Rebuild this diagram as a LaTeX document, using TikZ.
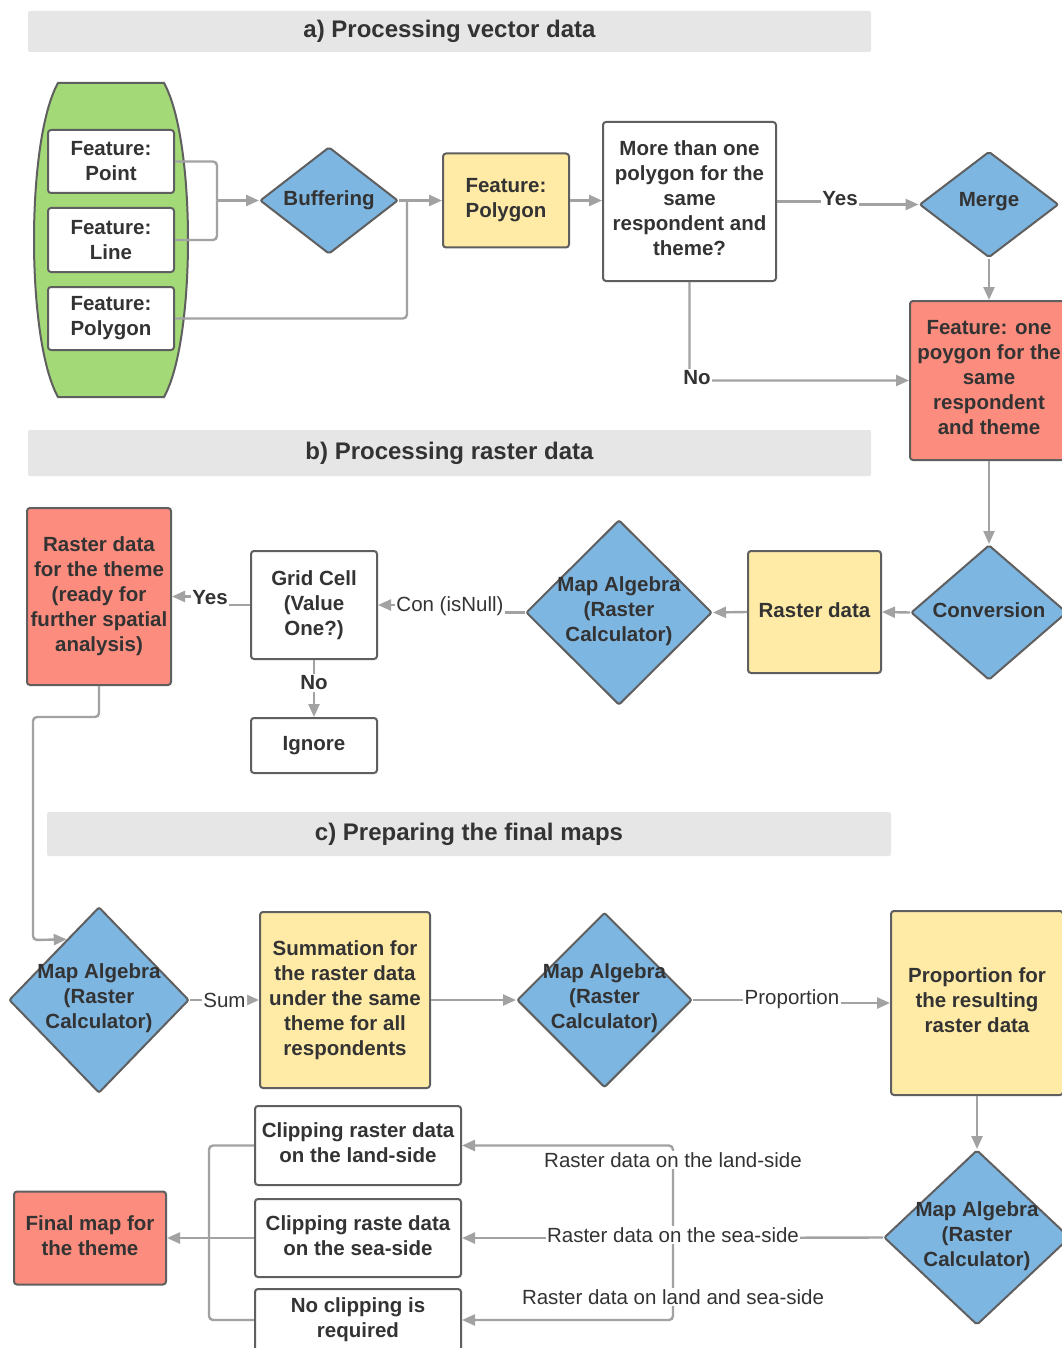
\documentclass[tikz,border=0pt]{standalone}
\usepackage{fontspec}
\setmainfont{Liberation Sans}
\usetikzlibrary{shapes.geometric,arrows.meta}
\definecolor{bandgray}{HTML}{E6E6E6}
\definecolor{edge}{HTML}{5F5F5F}
\definecolor{wire}{HTML}{A2A2A2}
\definecolor{ink}{HTML}{333333}
\definecolor{leaf}{HTML}{A3D977}
\definecolor{sky}{HTML}{7EB6E2}
\definecolor{cream}{HTML}{FFEBA6}
\definecolor{salmon}{HTML}{FC8C7D}

\begin{document}
\begin{tikzpicture}[x=1pt,y=-1pt,
  every node/.style={text=ink},
  boxstyle/.style={rectangle, rounded corners=3pt, draw=edge, line width=2pt,
    inner sep=0pt, align=center, font=\bfseries\fontsize{20.5}{25}\selectfont},
  whitebox/.style={boxstyle, fill=white},
  yellowbox/.style={boxstyle, fill=cream},
  redbox/.style={boxstyle, fill=salmon},
  dia/.style={diamond, draw=edge, fill=sky, line width=2pt, inner sep=0pt, rounded corners=2pt},
  diatext/.style={align=center, inner sep=0pt, font=\bfseries\fontsize{20.5}{25}\selectfont},
  band/.style={fill=bandgray, rounded corners=2pt, inner sep=0pt,
    font=\bfseries\fontsize{24}{28}\selectfont},
  line/.style={draw=wire, line width=2.4pt, rounded corners=4pt},
  conn/.style={line, -{Triangle[length=13pt,width=11pt]}},
  lbl/.style={fill=white, inner sep=1.5pt, font=\fontsize{20.5}{25}\selectfont},
  blbl/.style={lbl, font=\bfseries\fontsize{20.5}{25}\selectfont},
]
\useasboundingbox (0,0) rectangle (1061,1348);
\fill[white] (0,0) rectangle (1061,1348);

% ---------- section bands ----------
\node[band, minimum width=843, minimum height=41] (bandA) at (449.5,31.5) {a) Processing vector data};
\node[band, minimum width=843, minimum height=46] (bandB) at (449.5,453) {b) Processing raster data};
\node[band, minimum width=844, minimum height=44] (bandC) at (469,834) {c) Preparing the final maps};

% ---------- a) vector data ----------
\draw[fill=leaf, draw=edge, line width=2pt]
  (58,83) -- (164,83) .. controls (196,140) and (196,340) .. (164,397)
  -- (58,397) .. controls (26,340) and (26,140) .. (58,83) -- cycle;

\node[whitebox, minimum width=126, minimum height=63] (pt) at (111,161.5) {Feature:\\Point};
\node[whitebox, minimum width=126, minimum height=64] (ln) at (111,240) {Feature:\\Line};
\node[whitebox, minimum width=126, minimum height=63] (pg) at (111,318.5) {Feature:\\Polygon};

\node[dia, minimum width=138, minimum height=107] (buf) at (329,200.5) {};
\node[diatext] (buftxt) at (buf) {Buffering};

\node[yellowbox, minimum width=126, minimum height=94] (fpoly) at (506,200.5) {Feature:\\Polygon};
\node[whitebox, minimum width=173, minimum height=159] (more) at (689.5,201.5) {};
\node[diatext] (moretxt) at (689.5,198.5) {More than one\\polygon for the\\same\\respondent and\\theme?};

\node[dia, minimum width=139, minimum height=106] (merge) at (989,204.5) {};
\node[diatext] (mergetxt) at (989,202) {Merge};

\node[redbox, minimum width=158, minimum height=159] (fop) at (989,380.5) {};
\node[diatext] (foptxt) at (989,378) {Feature: one\\poygon for the\\same\\respondent\\and theme};

\coordinate (j1) at (217,200.5);
\coordinate (j2) at (407,200.5);
\draw[line] (pt.east) -| (j1);
\draw[line] (ln.east) -| (j1);
\draw[conn] (j1) -- (buf.west);
\draw[line] (pg.east) -| (j2);
\draw[conn] (buf.east) -- (fpoly.west);
\draw[conn] (fpoly.east) -- (fpoly.east -| more.west);

\node[blbl] (yes1) at (840,199) {Yes};
\draw[line] (more.east) -- (more.east -| yes1.west);
\draw[conn] (yes1.east |- merge.west) -- (merge.west);
\draw[conn] (merge.south) -- (fop.north);
\draw[conn] (more.south) |- (fop.west);
\node[blbl] (no1) at (697,378) {No};

% ---------- b) raster data ----------
\node[dia, minimum width=156, minimum height=135] (conv) at (989,612.5) {};
\node[diatext] (convtxt) at (989,610) {Conversion};
\node[yellowbox, minimum width=133, minimum height=122] (rdata) at (814.5,612) {};
\node[diatext] (rdatatxt) at (814.5,610) {Raster data};
\node[dia, minimum width=186, minimum height=185] (mab) at (619,612.5) {};
\node[diatext] (mabtxt) at (619,611) {Map Algebra\\(Raster\\Calculator)};
\node[whitebox, minimum width=126, minimum height=108] (grid) at (314,605) {Grid Cell\\(Value\\One?)};
\node[whitebox, minimum width=126, minimum height=55] (ignore) at (314,745.5) {Ignore};
\node[redbox, minimum width=144, minimum height=177] (rtheme) at (99,596.5)
  {Raster data\\for the theme\\(ready for\\further spatial\\analysis)};

\draw[conn] (fop.south) -- (conv.north);
\draw[conn] (conv.west) -- (rdata.east);
\draw[conn] (rdata.west) -- (mab.east);

\node[lbl] (con) at (450,606) {Con (isNull)};
\draw[line] (mab.west) -- (mab.west -| con.east);
\draw[conn] (con.west |- grid.east) -- (grid.east);

\node[blbl] (yes2) at (210,598) {Yes};
\draw[line] (grid.west) -- (grid.west -| yes2.east);
\draw[conn] (yes2.west |- rtheme.east) -- (rtheme.east);

\draw[conn] (grid.south) -- (ignore.north);
\node[blbl] (no2) at (314,683) {No};

% ---------- c) final maps ----------
\node[dia, minimum width=180, minimum height=186] (mac1) at (99,1000) {};
\node[diatext] (mac1txt) at (99,998) {Map Algebra\\(Raster\\Calculator)};
\node[yellowbox, minimum width=170, minimum height=176] (summ) at (345,1000)
  {Summation for\\the raster data\\under the same\\theme for all\\respondents};
\node[dia, minimum width=175, minimum height=175] (mac2) at (604.5,1000) {};
\node[diatext] (mac2txt) at (604.5,998) {Map Algebra\\(Raster\\Calculator)};
\node[yellowbox, minimum width=172, minimum height=184] (propbox) at (977,1003) {};
\node[diatext] (proptxt) at (977,1000) {Proportion for\\the resulting\\raster data};
\node[dia, minimum width=186, minimum height=175] (mac3) at (977,1237.5) {};
\node[diatext] (mac3txt) at (977,1236) {Map Algebra\\(Raster\\Calculator)};

\node[whitebox, minimum width=206, minimum height=79] (clipland) at (358,1145.5) {};
\node[diatext] (cliplandtxt) at (358,1143) {Clipping raster data\\on the land-side};
\node[whitebox, minimum width=206, minimum height=78] (clipsea) at (358,1238) {};
\node[diatext] (clipseatxt) at (358,1236) {Clipping raste data\\on the sea-side};
\node[whitebox, minimum width=206, minimum height=62] (noclip) at (358,1320)
  {No clipping is\\required};
\node[redbox, minimum width=152, minimum height=93] (final) at (90,1238) {};
\node[diatext] (finaltxt) at (90,1236) {Final map for\\the theme};

\draw[conn] (rtheme.south) -- ++(0,31) -| (33,940) -- (mac1.118);
\draw[conn] (mac1.east) -- node[lbl] (sum) {Sum} (summ.west);
\draw[conn] (summ.east) -- (mac2.west);

\node[lbl] (plbl) at (792,999) {Proportion};
\draw[line] (mac2.east) -- (mac2.east -| plbl.west);
\draw[conn] (plbl.east |- propbox.west) -- (propbox.west);
\draw[conn] (propbox.south) -- (mac3.north);

\coordinate (j3) at (673,1238);
\draw[line] (mac3.west) -- (j3);
\draw[conn] (j3) |- (clipland.east);
\draw[conn] (j3) -- (clipsea.east);
\draw[conn] (j3) |- (noclip.east);
\node[lbl] (landlbl) at (673,1160) {Raster data on the land-side};
\node[lbl] (sealbl) at (673,1235) {Raster data on the sea-side};
\node[lbl] (bothlbl) at (673,1297) {Raster data on land and sea-side};

\coordinate (j4) at (209,1238);
\draw[line] (clipland.west) -| (j4);
\draw[line] (noclip.west) -| (j4);
\draw[conn] (clipsea.west) -- (final.east);
\end{tikzpicture}
\end{document}
